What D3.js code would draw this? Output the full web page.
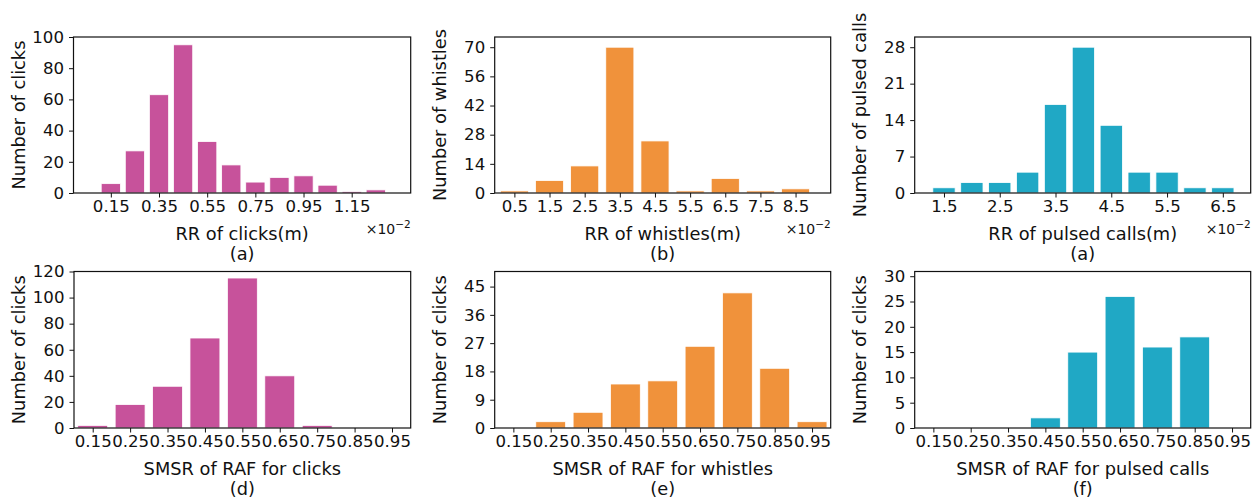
<!DOCTYPE html>
<html><head><meta charset="utf-8">
<script src="https://cdn.jsdelivr.net/npm/d3@7/dist/d3.min.js"></script>
<style>body{margin:0;background:#fff}svg{display:block}text{font-family:"DejaVu Sans",sans-serif;fill:#111}</style>
</head><body><svg id="c" width="1260" height="499"></svg>
<script>
// ---- data ----
const rrClicksX = [0.15,0.25,0.35,0.45,0.55,0.65,0.75,0.85,0.95,1.05,1.15,1.25];
const rrClicksY = [6,27,63,95,33,18,7,10,11,5,1,2];
const rrClicksTicks = [0.15,0.35,0.55,0.75,0.95,1.15];

const rrWhistlesX = [0.5,1.5,2.5,3.5,4.5,5.5,6.5,7.5,8.5];
const rrWhistlesY = [1,6,13,70,25,1,7,1,2];
const rrWhistlesTicks = [0.5,1.5,2.5,3.5,4.5,5.5,6.5,7.5,8.5];

const rrPulsedX = [1.5,2.0,2.5,3.0,3.5,4.0,4.5,5.0,5.5,6.0,6.5];
const rrPulsedY = [1,2,2,4,17,28,13,4,4,1,1];
const rrPulsedTicks = [1.5,2.5,3.5,4.5,5.5,6.5];

const smsrX = [0.15,0.25,0.35,0.45,0.55,0.65,0.75,0.85,0.95];
const smsrClicksY = [2,18,32,69,115,40,2,0,0];
const smsrWhistlesY = [0,2,5,14,15,26,43,19,2];
const smsrPulsedY = [0,0,0,2,15,26,16,18,0];
const smsrTicks = [0.15,0.25,0.35,0.45,0.55,0.65,0.75,0.85,0.95];

const yTicksA = [0,20,40,60,80,100];
const yTicksB = [0,14,28,42,56,70];
const yTicksC = [0,7,14,21,28];
const yTicksD = [0,20,40,60,80,100,120];
const yTicksE = [0,9,18,27,36,45];
const yTicksF = [0,5,10,15,20,25,30];

const PINK = "#c7529b", ORANGE = "#f0923b", CYAN = "#20a8c5";

const panels = [
  {x0:73.5,x1:410.7,y0:37,y1:193,xd:[-0.005,1.395],yd:[0,100],bw:0.08,xs:rrClicksX,ys:rrClicksY,xt:rrClicksTicks,yt:yTicksA,fmt:d3.format(".2f"),col:PINK,
   xl:"RR of clicks(m)",yl:"Number of clicks",cap:"(a)",exp:true},
  {x0:494.7,x1:830.7,y0:37,y1:193,xd:[-0.06,9.5],yd:[0,74.9],bw:0.8,xs:rrWhistlesX,ys:rrWhistlesY,xt:rrWhistlesTicks,yt:yTicksB,fmt:d3.format(".1f"),col:ORANGE,
   xl:"RR of whistles(m)",yl:"Number of whistles",cap:"(b)",exp:true},
  {x0:914.7,x1:1250.7,y0:37,y1:193,xd:[0.975,7.0],yd:[0,29.96],bw:0.4,xs:rrPulsedX,ys:rrPulsedY,xt:rrPulsedTicks,yt:yTicksC,fmt:d3.format(".1f"),col:CYAN,
   xl:"RR of pulsed calls(m)",yl:"Number of pulsed calls",cap:"(a)",exp:true},
  {x0:74,x1:410.7,y0:271.5,y1:428,xd:[0.1,1.0],yd:[0,120],bw:0.08,xs:smsrX,ys:smsrClicksY,xt:smsrTicks,yt:yTicksD,fmt:d3.format(".2f"),col:PINK,
   xl:"SMSR of RAF for clicks",yl:"Number of clicks",cap:"(d)",exp:false},
  {x0:494.7,x1:830.7,y0:271.5,y1:428,xd:[0.1,1.0],yd:[0,49.8],bw:0.08,xs:smsrX,ys:smsrWhistlesY,xt:smsrTicks,yt:yTicksE,fmt:d3.format(".2f"),col:ORANGE,
   xl:"SMSR of RAF for whistles",yl:"Number of clicks",cap:"(e)",exp:false},
  {x0:914.7,x1:1250.7,y0:271.5,y1:428,xd:[0.1,1.0],yd:[0,30.93],bw:0.08,xs:smsrX,ys:smsrPulsedY,xt:smsrTicks,yt:yTicksF,fmt:d3.format(".2f"),col:CYAN,
   xl:"SMSR of RAF for pulsed calls",yl:"Number of clicks",cap:"(f)",exp:false}
];

const svg = d3.select("#c");
const FS = 16.6, LFS = 17.8, TL = 4.5;

panels.forEach(p => {
  const g = svg.append("g");
  const x = d3.scaleLinear().domain(p.xd).range([p.x0,p.x1]);
  const y = d3.scaleLinear().domain(p.yd).range([p.y1,p.y0]);
  const data = p.xs.map((v,i)=>({x:v,y:p.ys[i]}));
  g.selectAll("rect.bar").data(data).enter().append("rect")
    .attr("x", d=>x(d.x-p.bw/2)).attr("width", d=>x(d.x+p.bw/2)-x(d.x-p.bw/2))
    .attr("y", d=>y(d.y)).attr("height", d=>y(0)-y(d.y))
    .attr("fill", p.col).attr("stroke","#fff").attr("stroke-width",0.8);

  const xa = g.append("g").attr("transform",`translate(0,${p.y1})`)
    .call(d3.axisBottom(x).tickValues(p.xt).tickFormat(p.fmt).tickSize(TL).tickPadding(3));
  const ya = g.append("g").attr("transform",`translate(${p.x0},0)`)
    .call(d3.axisLeft(y).tickValues(p.yt).tickSize(TL).tickPadding(5));
  [xa,ya].forEach(a=>{
    a.select(".domain").remove();
    a.selectAll("line").attr("stroke","#111").attr("stroke-width",1);
    a.selectAll("text").style("font-size",FS+"px").attr("fill","#111").style("font-family","DejaVu Sans");
  });
  g.append("rect").attr("x",p.x0).attr("y",p.y0).attr("width",p.x1-p.x0).attr("height",p.y1-p.y0)
    .attr("fill","none").attr("stroke","#111").attr("stroke-width",1.2);

  const cx = (p.x0+p.x1)/2;
  g.append("text").attr("x",cx).attr("y",p.y1+40).attr("text-anchor","middle").attr("dominant-baseline","central")
    .style("font-size",LFS+"px").text(p.xl);
  g.append("text").attr("x",cx).attr("y",p.y1+60.5).attr("text-anchor","middle").attr("dominant-baseline","central")
    .style("font-size",LFS+"px").text(p.cap);
  g.append("text").attr("transform",`translate(${p.x0-55.5},${(p.y0+p.y1)/2}) rotate(-90)`)
    .attr("text-anchor","middle").attr("dominant-baseline","central")
    .style("font-size",LFS+"px").text(p.yl);
  if (p.exp) {
    const t = g.append("text").attr("x",p.x1).attr("y",p.y1+41).attr("text-anchor","end")
      .style("font-size","14px");
    t.append("tspan").text("×10");
    t.append("tspan").attr("dy",-6).style("font-size","10.5px").text("−2");
  }
});
</script></body></html>
